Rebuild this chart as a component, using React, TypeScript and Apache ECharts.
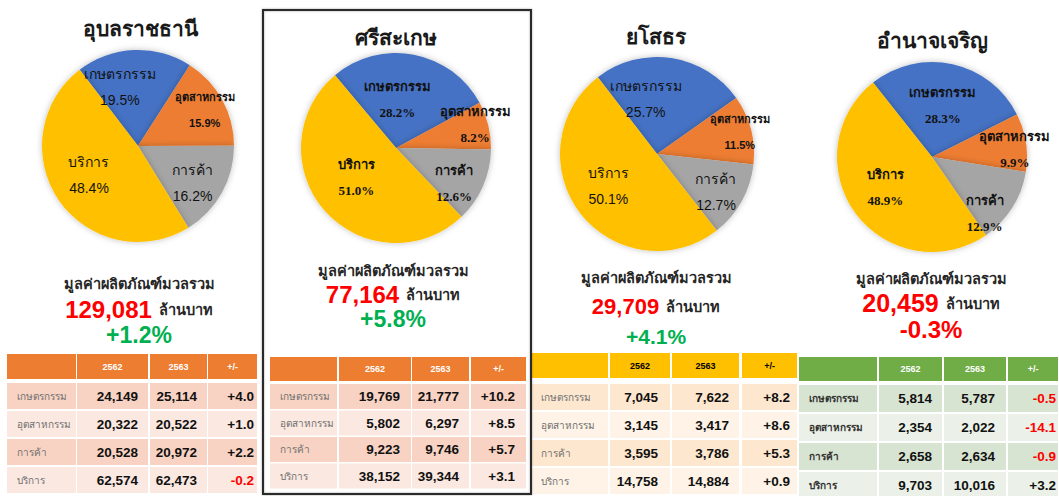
import React, { useEffect, useRef } from "react";
import * as echarts from "echarts";

// ---------- data ----------
const provinces = ["อุบลราชธานี", "ศรีสะเกษ", "ยโสธร", "อำนาจเจริญ"];
const categories = ["เกษตรกรรม", "อุตสาหกรรม", "การค้า", "บริการ"];
const years = ["2562", "2563", "+/-"];
const summaryLabel = "มูลค่าผลิตภัณฑ์มวลรวม";
const unitLabel = "ล้านบาท";

const ubon2562 = [24149, 20322, 20528, 62574];
const ubon2563 = [25114, 20522, 20972, 62473];
const ubonChange = [4.0, 1.0, 2.2, -0.2];

const sisaket2562 = [19769, 5802, 9223, 38152];
const sisaket2563 = [21777, 6297, 9746, 39344];
const sisaketChange = [10.2, 8.5, 5.7, 3.1];

const yasothon2562 = [7045, 3145, 3595, 14758];
const yasothon2563 = [7622, 3417, 3786, 14884];
const yasothonChange = [8.2, 8.6, 5.3, 0.9];

const amnat2562 = [5814, 2354, 2658, 9703];
const amnat2563 = [5787, 2022, 2634, 10016];
const amnatChange = [-0.5, -14.1, -0.9, 3.2];

const totals = [129081, 77164, 29709, 20459];
const totalChange = [1.2, 5.8, 4.1, -0.3];

const table2562 = [ubon2562, sisaket2562, yasothon2562, amnat2562];
const table2563 = [ubon2563, sisaket2563, yasothon2563, amnat2563];
const tableChange = [ubonChange, sisaketChange, yasothonChange, amnatChange];

// ---------- styles / layout ----------
const sliceColors = ["#4472C4", "#ED7D31", "#A5A5A5", "#FFC000"];
const SANS = "Tahoma, 'Liberation Sans', 'Noto Sans', sans-serif";
const SERIF = "'Times New Roman', 'Liberation Serif', serif";
const GREEN = "#00B050";
const RED = "#FF0000";

const themes: Record<string, any> = {
  orange: { head: "#ED7D31", headText: "#ffffff", band: ["#F8D3C3", "#FBE8E0"], labelColor: "#707070", labelWeight: "normal" },
  yellow: { head: "#FFC000", headText: "#000000", band: ["#FDE7CF", "#FEF3E6"], labelColor: "#707070", labelWeight: "normal" },
  green: { head: "#70AD47", headText: "#ffffff", band: ["#D8E4D2", "#EBF1E8"], labelColor: "#333333", labelWeight: "bold" },
};

const layouts = [
  {
    cx: 138, cy: 146, r: 96, start: 127.4, serif: false, titleX: 140, titleY: 28, titleSize: 21,
    sumX: 139, sumY: [284, 309, 335], numSize: 24, chgSize: 23, numFont: SANS,
    offsets: [[-16, -8], [22, -11], [10, 12], [-7, 0]],
    cols: [7, 77, 150, 208], widths: [69, 71, 57, 49], headY: 354, headH: 25, rowY: 383, rowH: 26, pitch: 28,
    theme: "orange", pads: [10, 10, 3],
  },
  {
    cx: 396, cy: 148, r: 95, start: 130, serif: true, titleX: 396, titleY: 37, titleSize: 21,
    sumX: 393, sumY: [271, 294, 319], numSize: 24, chgSize: 23, numFont: SANS,
    offsets: [[-8, 1], [30, -12], [12, 15], [-2, -4]],
    cols: [270, 339, 412, 471], widths: [67, 72, 57, 55], headY: 357, headH: 24, rowY: 384, rowH: 25, pitch: 26.5,
    theme: "orange", pads: [11, 10, 11],
  },
  {
    cx: 657, cy: 154, r: 97, start: 127.6, serif: false, titleX: 656, titleY: 36, titleSize: 21,
    sumX: 656, sumY: [278, 306, 336], numSize: 22, chgSize: 21, numFont: SANS,
    offsets: [[-19, -4], [33, -9], [14, 13], [-8, 0]],
    cols: [531, 610, 672, 742], widths: [77, 60, 67, 55], headY: 353, headH: 25, rowY: 384, rowH: 26, pitch: 28,
    theme: "yellow", pads: [12, 10, 7],
  },
  {
    cx: 932, cy: 157, r: 95, start: 128.4, serif: true, titleX: 932, titleY: 40, titleSize: 21,
    sumX: 931, sumY: [279, 303, 329], numSize: 25, chgSize: 24, numFont: SANS,
    offsets: [[0, -2], [33, 0], [10, 30], [-6, 0]],
    cols: [799, 879, 944, 1008], widths: [78, 63, 62, 50], headY: 357, headH: 24, rowY: 385, rowH: 27, pitch: 29,
    theme: "green", pads: [10, 11, 2],
  },
];

const fmt = (v: number) => v.toLocaleString("en-US");
const fmtChg = (v: number) => (v > 0 ? "+" : "") + v.toFixed(1);

function text(x: number, y: number, t: string, font: string, fill: string, align = "center", valign = "middle", extra: any = {}) {
  return {
    type: "text",
    x,
    y,
    silent: true,
    style: { text: t, font, fill, align, verticalAlign: valign, textAlign: align, textVerticalAlign: valign, ...extra },
  };
}

function buildGraphics() {
  const g: any[] = [];
  // frame around the second panel
  g.push({
    type: "rect",
    shape: { x: 263, y: 10, width: 268, height: 484 },
    style: { fill: "none", stroke: "#2a2a2a", lineWidth: 2, shadowBlur: 2, shadowColor: "rgba(0,0,0,0.35)" },
    silent: true,
    z: 10,
  });

  layouts.forEach((L, p) => {
    const th = themes[L.theme];
    // title
    g.push(text(L.titleX, L.titleY, provinces[p], `bold ${L.titleSize}px ${SANS}`, "#1a1a1a"));
    // summary
    g.push(text(L.sumX, L.sumY[0], summaryLabel, `bold 14.5px ${SANS}`, "#262626"));
    g.push({
      type: "text",
      x: L.sumX,
      y: L.sumY[1],
      silent: true,
      style: {
        text: `{n|${fmt(totals[p])}}{u|${unitLabel}}`,
        align: "center",
        verticalAlign: "middle",
        textAlign: "center",
        textVerticalAlign: "middle",
        rich: {
          n: { font: `bold ${L.numSize}px ${L.numFont}`, fill: RED, color: RED },
          u: { font: `bold 14.5px ${SANS}`, fill: "#262626", color: "#262626", padding: [2, 0, 0, 7] },
        },
      },
    });
    const tc = totalChange[p];
    g.push(text(L.sumX, L.sumY[2], fmtChg(tc) + "%", `bold ${L.chgSize}px ${SANS}`, tc >= 0 ? GREEN : RED));

    // table header
    L.cols.forEach((cx, c) => {
      g.push({
        type: "rect",
        silent: true,
        shape: { x: cx, y: L.headY, width: L.widths[c], height: L.headH },
        style: { fill: th.head },
      });
      if (c > 0) {
        g.push(text(cx + L.widths[c] / 2, L.headY + L.headH / 2, years[c - 1], `bold 9px ${SANS}`, th.headText));
      }
    });
    // rows
    categories.forEach((cat, r) => {
      const y = L.rowY + r * L.pitch;
      const cy = y + L.rowH / 2;
      L.cols.forEach((cx, c) => {
        g.push({
          type: "rect",
          silent: true,
          shape: { x: cx, y, width: L.widths[c], height: L.rowH },
          style: { fill: th.band[r % 2] },
        });
      });
      g.push(text(L.cols[0] + 10, cy, cat, `${th.labelWeight} 10px ${SANS}`, th.labelColor, "left"));
      const v1 = table2562[p][r];
      const v2 = table2563[p][r];
      const ch = tableChange[p][r];
      g.push(text(L.cols[1] + L.widths[1] - L.pads[0], cy, fmt(v1), `bold 13.5px ${SANS}`, "#111", "right"));
      g.push(text(L.cols[2] + L.widths[2] - L.pads[1], cy, fmt(v2), `bold 13.5px ${SANS}`, "#111", "right"));
      g.push(text(L.cols[3] + L.widths[3] - L.pads[2], cy, fmtChg(ch), `bold 13.5px ${SANS}`, ch < 0 ? RED : "#111", "right"));
    });
  });
  return g;
}

function buildSeries() {
  return layouts.map((L, p) => ({
    type: "pie",
    center: [L.cx, L.cy],
    radius: L.r,
    startAngle: L.start,
    clockwise: true,
    avoidLabelOverlap: false,
    percentPrecision: 1,
    silent: true,
    color: sliceColors,
    itemStyle: { borderWidth: 0, shadowBlur: 6, shadowColor: "rgba(0,0,0,0.25)" },
    emphasis: { disabled: true },
    labelLine: { show: false },
    label: {
      show: true,
      position: "inside",
      color: "#111",
      fontFamily: L.serif ? SERIF : SANS,
      fontWeight: L.serif ? "bold" : "normal",
      fontSize: L.serif ? 13 : 14,
      lineHeight: 13,
      formatter: (pp: any) => `${pp.name}\n\n${Number(pp.percent).toFixed(1)}%`,
    },
    labelLayout: (pp: any) => ({ dx: L.offsets[pp.dataIndex][0], dy: L.offsets[pp.dataIndex][1] }),
    data: categories.map((c, i) => ({
      name: c,
      value: table2563[p][i],
      label: i === 1 && !L.serif ? { fontSize: 11, fontWeight: "bold" } : {},
    })),
  }));
}

export default function App() {
  const ref = useRef<HTMLDivElement>(null);
  useEffect(() => {
    if (!ref.current) return;
    const chart = echarts.init(ref.current, undefined, { renderer: "svg" });
    chart.setOption({
      animation: false,
      backgroundColor: "#ffffff",
      series: buildSeries(),
      graphic: { elements: buildGraphics() },
    });
    return () => chart.dispose();
  }, []);
  return (
    <div
      ref={ref}
      style={{ position: "absolute", left: 0, top: 0, width: 1059, height: 496, background: "#fff" }}
    />
  );
}
